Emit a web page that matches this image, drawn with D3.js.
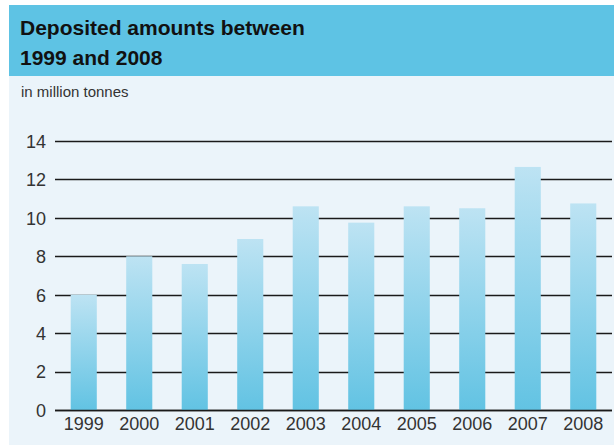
<!DOCTYPE html>
<html>
<head>
<meta charset="utf-8">
<script src="https://cdn.jsdelivr.net/npm/d3@7"></script>
<style>
  html, body { margin: 0; padding: 0; background: #ffffff; }
  svg { display: block; font-family: "Liberation Sans", Arial, Helvetica, sans-serif; }
</style>
</head>
<body>
<svg id="chart" width="614" height="445"></svg>
<script>
// Deposited amounts per year, in million tonnes
const years = ["1999", "2000", "2001", "2002", "2003", "2004", "2005", "2006", "2007", "2008"];
const amounts = [6.0, 8.0, 7.6, 8.9, 10.6, 9.75, 10.6, 10.5, 12.65, 10.75];
const yTicks = [0, 2, 4, 6, 8, 10, 12, 14];
const titleLines = ["Deposited amounts between", "1999 and 2008"];
const unitLabel = "in million tonnes";

const svg = d3.select("#chart");
const W = 614, H = 445;

// panel background and header band
svg.append("rect").attr("x", 9).attr("y", 5).attr("width", W - 9).attr("height", H - 5)
  .attr("fill", "#ebf4fa");
svg.append("rect").attr("x", 9).attr("y", 5).attr("width", W - 9).attr("height", 71)
  .attr("fill", "#5ec3e4");

svg.append("text").attr("x", 20).attr("y", 35)
  .attr("font-size", 21).attr("font-weight", "bold").attr("fill", "#111")
  .selectAll("tspan").data(titleLines).join("tspan")
  .attr("x", 20).attr("dy", (d, i) => i === 0 ? 0 : 30).text(d => d);

svg.append("text").attr("x", 21).attr("y", 97)
  .attr("font-size", 15).attr("fill", "#333").text(unitLabel);

// scales
const x = d3.scaleBand().domain(years).range([56, 611])
  .paddingInner(0.53).paddingOuter(0.265);
const y = d3.scaleLinear().domain([0, 14]).range([410, 141]);

// gradient for bars
const defs = svg.append("defs");
const grad = defs.append("linearGradient").attr("id", "barFill")
  .attr("x1", 0).attr("y1", 0).attr("x2", 0).attr("y2", 1)
  .attr("gradientUnits", "objectBoundingBox");
grad.append("stop").attr("offset", "0%").attr("stop-color", "#bde3f3");
grad.append("stop").attr("offset", "100%").attr("stop-color", "#62c3e3");

// value axis labels
const yAxis = d3.axisLeft(y).tickValues(yTicks).tickSize(0).tickPadding(0);
const gy = svg.append("g").attr("transform", "translate(46,0)").call(yAxis);
gy.select(".domain").remove();
gy.selectAll("text").attr("font-size", 18).attr("fill", "#333")
  .attr("font-family", "Liberation Sans, Arial, sans-serif").attr("dy", "0.35em");

// horizontal gridlines
svg.append("g").selectAll("line").data(yTicks).join("line")
  .attr("x1", 55).attr("x2", 612)
  .attr("y1", d => Math.round(y(d)) + 0.5).attr("y2", d => Math.round(y(d)) + 0.5)
  .attr("stroke", "#1a1a1a").attr("stroke-width", 1.6);

// bars
svg.append("g").selectAll("rect").data(years).join("rect")
  .attr("x", d => x(d))
  .attr("width", x.bandwidth())
  .attr("y", (d, i) => y(amounts[i]))
  .attr("height", (d, i) => y(0) - y(amounts[i]))
  .attr("fill", "url(#barFill)");

// baseline on top of bars
svg.append("line").attr("x1", 55).attr("x2", 612)
  .attr("y1", Math.round(y(0)) + 0.5).attr("y2", Math.round(y(0)) + 0.5)
  .attr("stroke", "#1a1a1a").attr("stroke-width", 1.6);

// year labels
const xAxis = d3.axisBottom(x).tickSize(0).tickPadding(0);
const gx = svg.append("g").attr("transform", "translate(0,417)").call(xAxis);
gx.select(".domain").remove();
gx.selectAll("text").attr("font-size", 18).attr("fill", "#333")
  .attr("font-family", "Liberation Sans, Arial, sans-serif").attr("dy", "0.71em");
</script>
</body>
</html>
